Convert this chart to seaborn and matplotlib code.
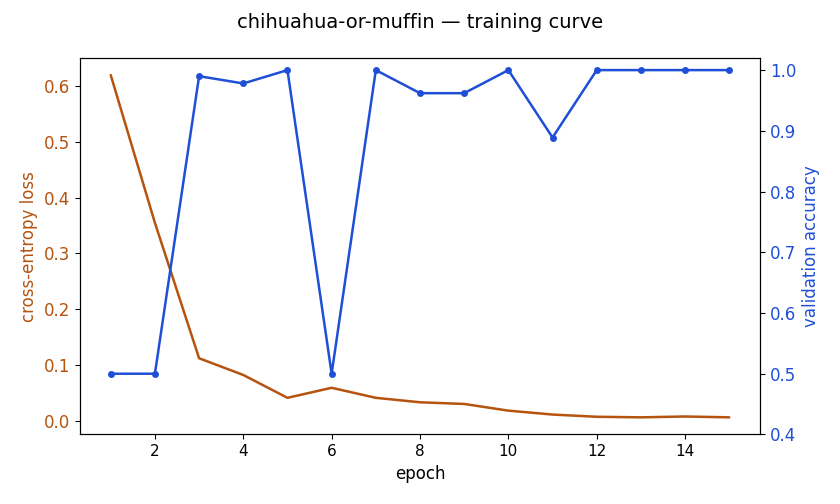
import matplotlib
matplotlib.use("Agg")
import matplotlib.pyplot as plt
import seaborn as sns
import pandas as pd

epochs = list(range(1, 16))
loss = [0.620, 0.355, 0.112, 0.082, 0.041, 0.059, 0.041, 0.033, 0.030, 0.018, 0.011, 0.007, 0.006, 0.0075, 0.006]
val_acc = [0.5, 0.5, 0.99, 0.978, 1.0, 0.5, 1.0, 0.962, 0.962, 1.0, 0.889, 1.0, 1.0, 1.0, 1.0]

loss_color = "#b5530f"
acc_color = "#1f4fd6"

sns.set_style("ticks")
plt.rcParams['font.family'] = ['DejaVu Sans']
plt.rcParams['text.color'] = 'black'
plt.rcParams['axes.labelcolor'] = 'black'
plt.rcParams['xtick.color'] = 'black'
plt.rcParams['ytick.color'] = 'black'

df = pd.DataFrame({"epoch": epochs, "loss": loss, "val_acc": val_acc})

fig, ax = plt.subplots(figsize=(8.4, 5.04), dpi=100)
fig.subplots_adjust(left=0.095, right=0.905, top=0.885, bottom=0.138)

sns.lineplot(data=df, x="epoch", y="loss", ax=ax, color=loss_color, linewidth=1.8)
ax.set_ylabel("cross-entropy loss", color=loss_color, fontsize=12)
ax.set_xlabel("epoch", fontsize=12, color="black")
ax.tick_params(axis="y", labelcolor=loss_color, labelsize=12)
ax.tick_params(axis="x", labelsize=11, labelcolor="black")
ax.set_xticks([2, 4, 6, 8, 10, 12, 14])

ax2 = ax.twinx()
sns.lineplot(data=df, x="epoch", y="val_acc", ax=ax2, color=acc_color, linewidth=1.8,
             marker="o", markersize=5, markeredgewidth=0)
ax2.set_ylabel("validation accuracy", color=acc_color, fontsize=12)
ax2.tick_params(axis="y", labelcolor=acc_color, labelsize=12)
ax2.set_ylim(0.4, 1.02)

for a in (ax, ax2):
    for s in a.spines.values():
        s.set_visible(True)
        s.set_color("black")

fig.suptitle("chihuahua-or-muffin — training curve", fontsize=14, y=0.975, color="black")
fig.savefig("out.png", dpi=100)
